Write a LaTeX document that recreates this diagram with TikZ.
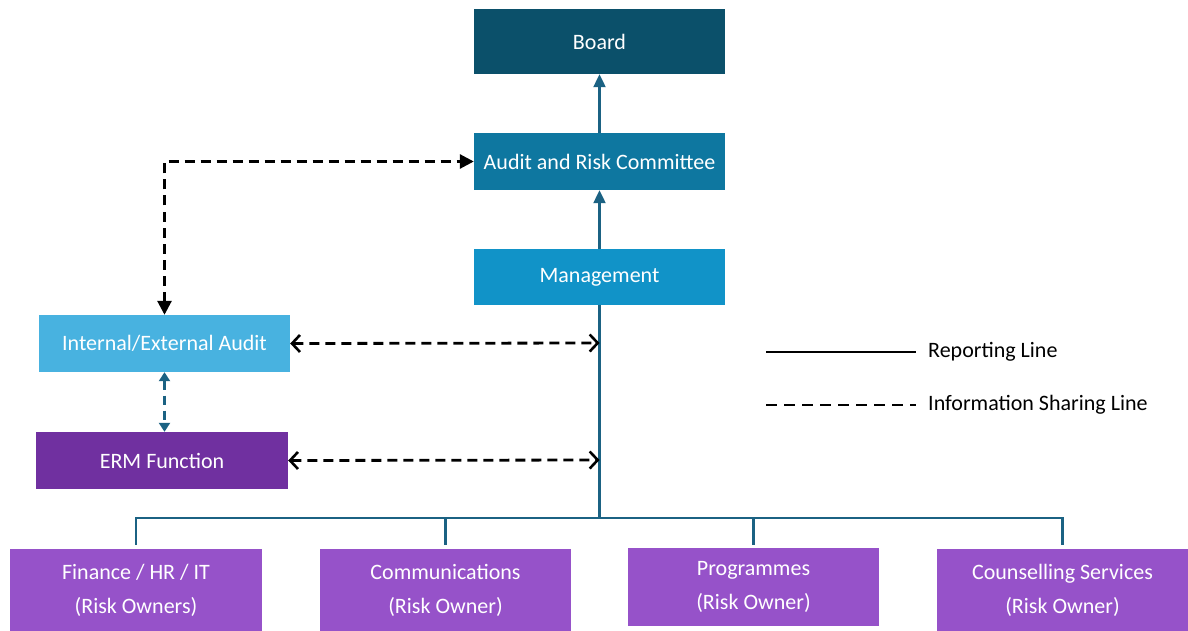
\documentclass[tikz,border=0pt]{standalone}
\usepackage{fontspec}
\setmainfont{Carlito}
\usetikzlibrary{arrows.meta}
\definecolor{cBoard}{HTML}{0B506A}
\definecolor{cARC}{HTML}{0E77A0}
\definecolor{cMgmt}{HTML}{1193C8}
\definecolor{cIA}{HTML}{48B2E0}
\definecolor{cERM}{HTML}{7030A0}
\definecolor{cOwner}{HTML}{9652C9}
\definecolor{cLine}{HTML}{1B6283}
\begin{document}
\begin{tikzpicture}[x=1pt,y=-1pt,
  box/.style={rectangle, inner sep=0pt, text=white, font=\fontsize{22}{34}\selectfont, align=center, minimum width=251pt, minimum height=57pt},
  rep/.style={draw=cLine, line width=2.2pt},
  info/.style={draw=black, line width=2.8pt, dash pattern=on 10pt off 6pt},
  barb/.style={{Straight Barb[length=8pt,width=17pt,line width=2.6pt]}-{Straight Barb[length=8pt,width=17pt,line width=2.6pt]}},
  legtext/.style={font=\fontsize{22}{24}\selectfont, anchor=west, inner sep=0pt}
]
\useasboundingbox (0,0) rectangle (1188,631);
\fill[white] (0,0) rectangle (1188,631);
% boxes
\node[box, fill=cBoard, minimum height=65pt] (board) at (599.5,41.5) {Board};
\node[box, fill=cARC] (arc) at (599.5,161.5) {Audit and Risk Committee};
\node[box, fill=cMgmt, minimum height=56pt] (mgmt) at (599.5,277) {Management};
\node[box, fill=cIA] (ia) at (164.5,343.5) {Internal/External Audit};
\node[box, fill=cERM, minimum width=252pt] (erm) at (162,460.5) {ERM Function};
\node[box, fill=cOwner, minimum width=252pt, minimum height=83pt] (fin) at (136,590) {Finance / HR / IT\\(Risk Owners)};
\node[box, fill=cOwner, minimum height=83pt] (comm) at (445.5,590) {Communications\\(Risk Owner)};
\node[box, fill=cOwner, minimum height=78pt] (prog) at (753.5,587) {Programmes\\(Risk Owner)};
\node[box, fill=cOwner, minimum height=83pt] (couns) at (1062.5,590) {Counselling Services\\(Risk Owner)};
% reporting lines
\draw[rep, -{Triangle[length=13pt,width=12pt]}] (mgmt.north) -- (arc.south);
\draw[rep, -{Triangle[length=13pt,width=12pt]}] (arc.north) -- (board.south);
\coordinate (bus) at (599.5,518);
\coordinate (t1) at (599.5,343);
\coordinate (t2) at (599.5,460);
\draw[rep] (mgmt.south) -- (bus);
\draw[rep] (bus) -| ([yshift=3pt]fin.north);
\draw[rep] (bus) -| ([yshift=3pt]comm.north);
\draw[rep] (bus) -| ([yshift=3pt]prog.north);
\draw[rep] (bus) -| ([yshift=3pt]couns.north);
% information sharing lines
\draw[info, {Triangle[length=14pt,width=14pt]}-{Triangle[length=14pt,width=14pt]}] (ia.north) |- (arc.west);
\draw[info, barb] (ia.east) -- (t1);
\draw[info, barb] (erm.east) -- (t2);
\draw[draw=cLine, line width=2.4pt, dash pattern=on 9pt off 6pt, {Triangle[length=9pt,width=11pt]}-{Triangle[length=9pt,width=11pt]}] (ia.south) -- (ia.south |- erm.north);
% legend
\coordinate (l1a) at (766,352);
\coordinate (l1b) at (916,352);
\coordinate (l2a) at (766,405);
\coordinate (l2b) at (916,405);
\draw[black, line width=2.4pt] (l1a) -- (l1b);
\draw[info, dash pattern=on 11pt off 7pt] (l2a) -- (l2b);
\node[legtext] (lt1) at (928,352) {Reporting Line};
\node[legtext] (lt2) at (928,405) {Information Sharing Line};
\end{tikzpicture}
\end{document}
